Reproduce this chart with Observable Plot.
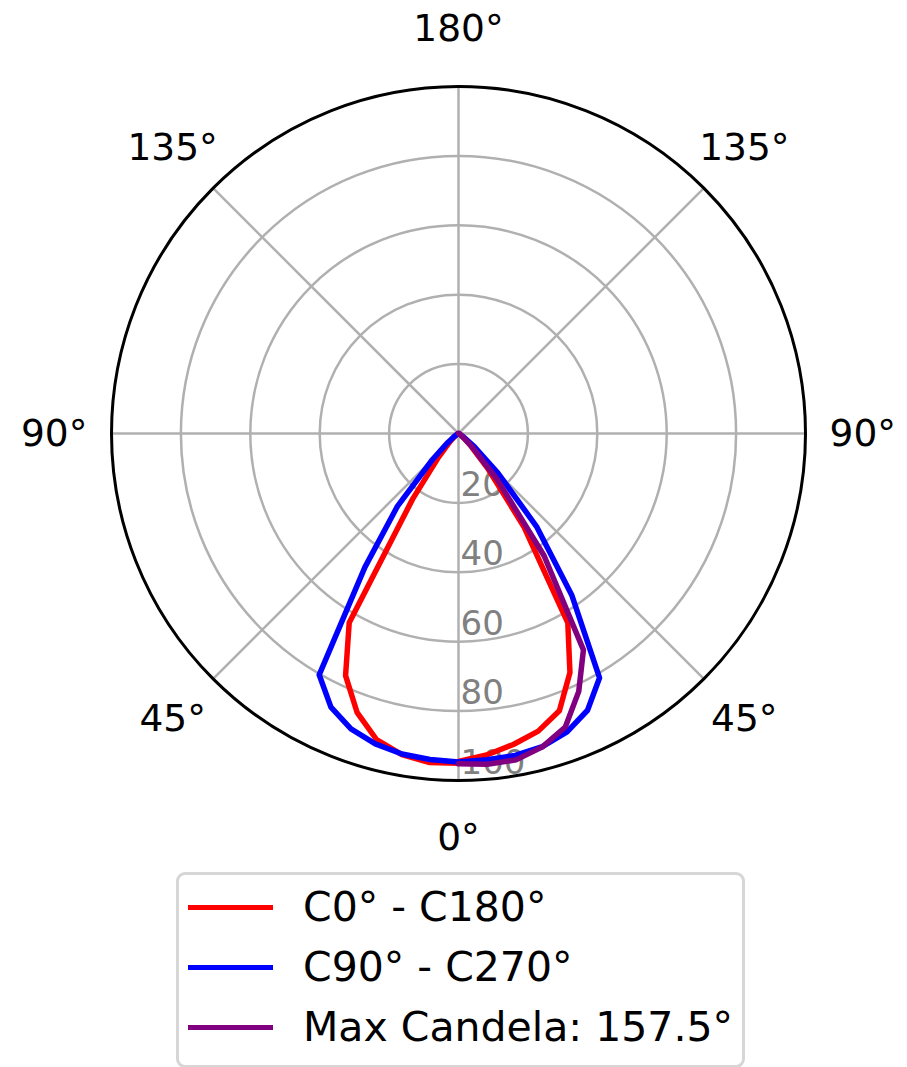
<!DOCTYPE html>
<html>
<head>
<meta charset="utf-8">
<script src="https://cdn.jsdelivr.net/npm/d3@7"></script>
<script src="https://cdn.jsdelivr.net/npm/@observablehq/plot@0.6"></script>
<style>
  body { margin: 0; background: #fff; font-family: "DejaVu Sans", sans-serif; }
  #wrap { position: relative; width: 907px; height: 1067px; overflow: hidden; background: #fff; }
  #chart { position: absolute; left: 0; top: 0; }
  #legend { position: absolute; left: 176px; top: 872px; width: 569px; height: 196px;
            border: 3px solid #d6d6d6; border-radius: 9px; box-sizing: border-box; background: #fff; }
  .row { position: absolute; left: 0; height: 60px; display: flex; align-items: center; }
  .sw { width: 85px; height: 5px; margin-left: 9px; flex: none; }
  .lab { margin-left: 30px; font-size: 41px; color: #000; white-space: nowrap; line-height: 1; }
</style>
</head>
<body>
<div id="wrap">
  <div id="chart"></div>
  <div id="legend"></div>
</div>
<script>
// ---- data (gamma angles in degrees, relative intensity) ----
const gammas = [0, 5, 10, 15, 20, 25, 30, 35, 40, 45, 50, 55, 60, 65, 70, 75, 80, 85, 90];
const redLeft    = [95.0, 95.2, 94.0, 91.3, 85.5, 77.0, 63.0, 23.0, 9.0, 4.0, 2.0, 1.0, 0.5, 0.3, 0.2, 0.1, 0, 0, 0];
const redRight   = [94.5, 93.0, 91.0, 88.8, 85.0, 76.0, 63.0, 33.0, 13.0, 5.0, 2.0, 1.0, 0.5, 0.3, 0.2, 0.1, 0, 0, 0];
const blueLeft   = [94.7, 94.3, 93.8, 92.6, 90.6, 87.0, 80.3, 47.0, 27.4, 10.6, 4.0, 1.5, 0.5, 0.3, 0.2, 0.1, 0, 0, 0];
const blueRight  = [94.7, 94.4, 94.2, 93.4, 91.5, 88.0, 81.3, 57.0, 35.0, 16.0, 6.0, 2.0, 0.5, 0.3, 0.2, 0.1, 0, 0, 0];
const purpleRight= [95.2, 95.7, 95.5, 93.5, 90.0, 82.0, 72.0, 43.0, 17.5, 6.0, 2.0, 1.0, 0.5, 0.3, 0.2, 0.1, 0, 0, 0];

const ringValues = [20, 40, 60, 80];
const rLabelValues = [20, 40, 60, 80, 100];
const rMax = 100;
const thetaTickAngles = [0, 45, 90, 135, 180, 225, 270, 315];
const thetaTickLabels = ["0°", "45°", "90°", "135°", "180°", "135°", "90°", "45°"];

const seriesNames = ["C0° - C180°", "C90° - C270°", "Max Candela: 157.5°"];
const seriesColors = ["#ff0000", "#0000ff", "#800080"];

// ---- helpers ----
const rad = a => a * Math.PI / 180;
function polarRows(left, right) {
  const rows = [];
  if (left) for (let i = gammas.length - 1; i >= 0; i--) rows.push({theta: -gammas[i], r: left[i]});
  if (right) for (let i = 0; i < gammas.length; i++) rows.push({theta: gammas[i], r: right[i]});
  return rows;
}
const px = d => d.r * Math.sin(rad(d.theta));
const py = d => -d.r * Math.cos(rad(d.theta));

const R = 347, CX = 458, CY = 433;
const gridColor = "#b0b0b0";
const labelR = 116.5;

const lineOpts = (color) => ({x: px, y: py, stroke: color, strokeWidth: 5.5, strokeLinejoin: "round", strokeLinecap: "round"});

const chart = Plot.plot({
  width: 907,
  height: 870,
  margin: 0,
  x: {domain: [-rMax, rMax], range: [CX - R, CX + R], axis: null},
  y: {domain: [-rMax, rMax], range: [CY + R, CY - R], axis: null},
  r: {type: "linear", domain: [0, rMax], range: [0, R]},
  style: {fontFamily: "DejaVu Sans", background: "white", overflow: "visible"},
  marks: [
    Plot.dot(ringValues, {x: () => 0, y: () => 0, r: d => d, stroke: gridColor, strokeWidth: 2.5, fill: "none"}),
    Plot.link(thetaTickAngles, {
      x1: () => 0, y1: () => 0,
      x2: a => rMax * Math.sin(rad(a)), y2: a => -rMax * Math.cos(rad(a)),
      stroke: gridColor, strokeWidth: 2.5
    }),
    Plot.dot([rMax], {x: () => 0, y: () => 0, r: d => d, stroke: "black", strokeWidth: 3, fill: "none"}),
    Plot.text(rLabelValues, {
      x: () => 0, y: d => -d, text: d => String(d),
      textAnchor: "start", lineAnchor: "bottom", dx: 2, dy: -7,
      fontSize: 34, fill: "#808080"
    }),
    Plot.line(polarRows(redLeft, redRight), lineOpts(seriesColors[0])),
    Plot.line(polarRows(blueLeft, blueRight), lineOpts(seriesColors[1])),
    Plot.line(polarRows(null, purpleRight), lineOpts(seriesColors[2])),
    Plot.text(thetaTickAngles, {
      x: a => labelR * Math.sin(rad(a)), y: a => -labelR * Math.cos(rad(a)),
      text: (a, i) => thetaTickLabels[i],
      textAnchor: "middle", lineAnchor: "middle",
      fontSize: 37.5, fill: "black"
    })
  ]
});
document.getElementById("chart").appendChild(chart);

// ---- legend ----
const legend = document.getElementById("legend");
seriesNames.forEach((name, i) => {
  const row = document.createElement("div");
  row.className = "row";
  row.style.top = (2 + i * 60) + "px";
  const sw = document.createElement("div");
  sw.className = "sw";
  sw.style.background = seriesColors[i];
  const lab = document.createElement("span");
  lab.className = "lab";
  lab.textContent = name;
  row.appendChild(sw);
  row.appendChild(lab);
  legend.appendChild(row);
});
</script>
</body>
</html>
